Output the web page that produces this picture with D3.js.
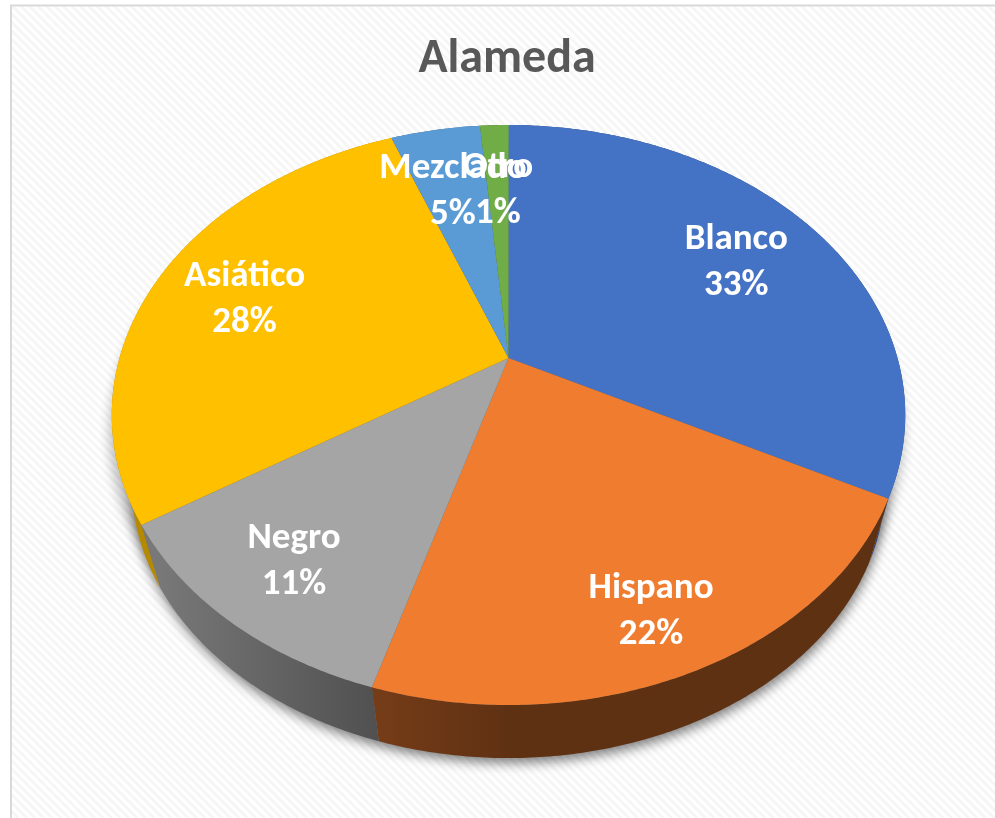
<!DOCTYPE html>
<html><head><meta charset="utf-8">
<script src="https://cdnjs.cloudflare.com/ajax/libs/d3/7.8.5/d3.min.js"></script>
<style>html,body{margin:0;padding:0;background:#fff}svg{display:block}</style>
</head><body><div id="c"></div>
<script>
const categories = ["Blanco","Hispano","Negro","Asiático","Mezclado","Otro"];
const shares = [32.6,22.0,11.4,28.2,4.4,1.4];
const percentLabels = ["33%","22%","11%","28%","5%","1%"];
const topColors = ["#4472C4","#F07D2F","#A5A5A5","#FFC000","#5B9BD5","#70AD47"];
const sideStart = ["#2a4578","#753c18","#787878","#b58a00","#37648c","#456a2b"];
const sideEnd = ["#2a4578","#5f3113","#505050","#b58a00","#37648c","#456a2b"];
const labelRadius = [.73,.82,.79,.745,.71,.70];
const labelNudgeX = [2,-4,-3,-1,-1,0];
const labelNudgeY = [-1,3,-1,1,0,0];
const title = "Alameda";

const W=995,H=818,cx=508.5,cy=358,A=389,B=278.8,K=.1966,S=.95,OFF=70.4;
const svg=d3.select("#c").append("svg").attr("width",W).attr("height",H);
const defs=svg.append("defs");
const pat=defs.append("pattern").attr("id","stripes").attr("width",6).attr("height",6)
  .attr("patternUnits","userSpaceOnUse").attr("patternTransform","rotate(45)");
pat.append("rect").attr("width",6).attr("height",6).attr("fill","#ffffff");
pat.append("rect").attr("width",6).attr("height",3).attr("fill","#f6f6f6");
const blur=defs.append("filter").attr("id","soft").attr("x","-10%").attr("y","-10%").attr("width","120%").attr("height","120%");
blur.append("feGaussianBlur").attr("stdDeviation",6);
const txtBlur=defs.append("filter").attr("id","txt");
txtBlur.append("feGaussianBlur").attr("stdDeviation",.5);

svg.append("rect").attr("x",11).attr("y",5.5).attr("width",W+20).attr("height",H+20)
  .attr("fill","url(#stripes)").attr("stroke","#d9d9d9").attr("stroke-width",2);

const project=(ang,r=1)=>{const X=r*Math.sin(ang),Y=-r*Math.cos(ang),w=1-K*Y;
  return [cx+A*X/w,cy+B*Y/w];};
const projectLow=(ang)=>{const [x,y]=project(ang);return [cx+S*(x-cx),cy+S*(y-cy)+OFF];};
const line=d3.line();
const sample=(a0,a1,f)=>{const n=Math.max(2,Math.ceil((a1-a0)/.01));
  return d3.range(n+1).map(i=>f(a0+(a1-a0)*i/n));};

const arcs=d3.pie().sort(null).value(d=>d)(shares);
const full=[0,2*Math.PI];

// shadow
const g=svg.append("g");
g.append("path").attr("d",line(sample(...full,a=>{const p=projectLow(a);return [p[0]+1,p[1]+5];}))+"Z")
  .attr("fill","#000").attr("opacity",.5).attr("filter","url(#soft)");
g.append("path").attr("d",line(sample(...full,a=>{const p=project(a);return [p[0]-2,p[1]+18];}))+"Z")
  .attr("fill","#000").attr("opacity",.25).attr("filter","url(#soft)");

// sides
arcs.forEach((d,i)=>{
  const id="side"+i;
  const lowPts=sample(d.startAngle,d.endAngle,a=>projectLow(a));
  const xs=lowPts.map(p=>p[0]);
  const gr=defs.append("linearGradient").attr("id",id).attr("gradientUnits","userSpaceOnUse")
    .attr("x1",d3.min(xs)).attr("x2",Math.min(d3.max(xs),d3.min(xs)+ (i===1?130:260))).attr("y1",0).attr("y2",0);
  gr.append("stop").attr("offset",0).attr("stop-color",sideStart[i]);
  gr.append("stop").attr("offset",1).attr("stop-color",sideEnd[i]);
  const topPts=sample(d.startAngle,d.endAngle,a=>project(a));
  g.append("path").attr("d",line(topPts.concat(lowPts.reverse()))+"Z").attr("fill",`url(#${id})`);
});

// top face
arcs.forEach((d,i)=>{
  const pts=[[cx,cy]].concat(sample(d.startAngle,d.endAngle,a=>project(a)));
  g.append("path").attr("d",line(pts)+"Z").attr("fill",topColors[i]);
});

// text
const font="Carlito, Lato, sans-serif";
svg.append("text").text(title).attr("x",507).attr("y",72).attr("text-anchor","middle")
  .attr("font-family",font).attr("font-weight",700).attr("font-size",48).attr("fill","#595959").attr("filter","url(#txt)");
arcs.forEach((d,i)=>{
  const [x0,y0]=project((d.startAngle+d.endAngle)/2,labelRadius[i]);
  const x=x0+labelNudgeX[i], y=y0+labelNudgeY[i];
  const t=svg.append("text").attr("text-anchor","middle").attr("font-family",font).attr("font-weight",700)
    .attr("font-size",37).attr("fill","#fff").attr("filter","url(#txt)");
  t.append("tspan").attr("x",x).attr("y",y-10).text(categories[i]);
  t.append("tspan").attr("x",x).attr("y",y+36).text(percentLabels[i]);
});
</script></body></html>
